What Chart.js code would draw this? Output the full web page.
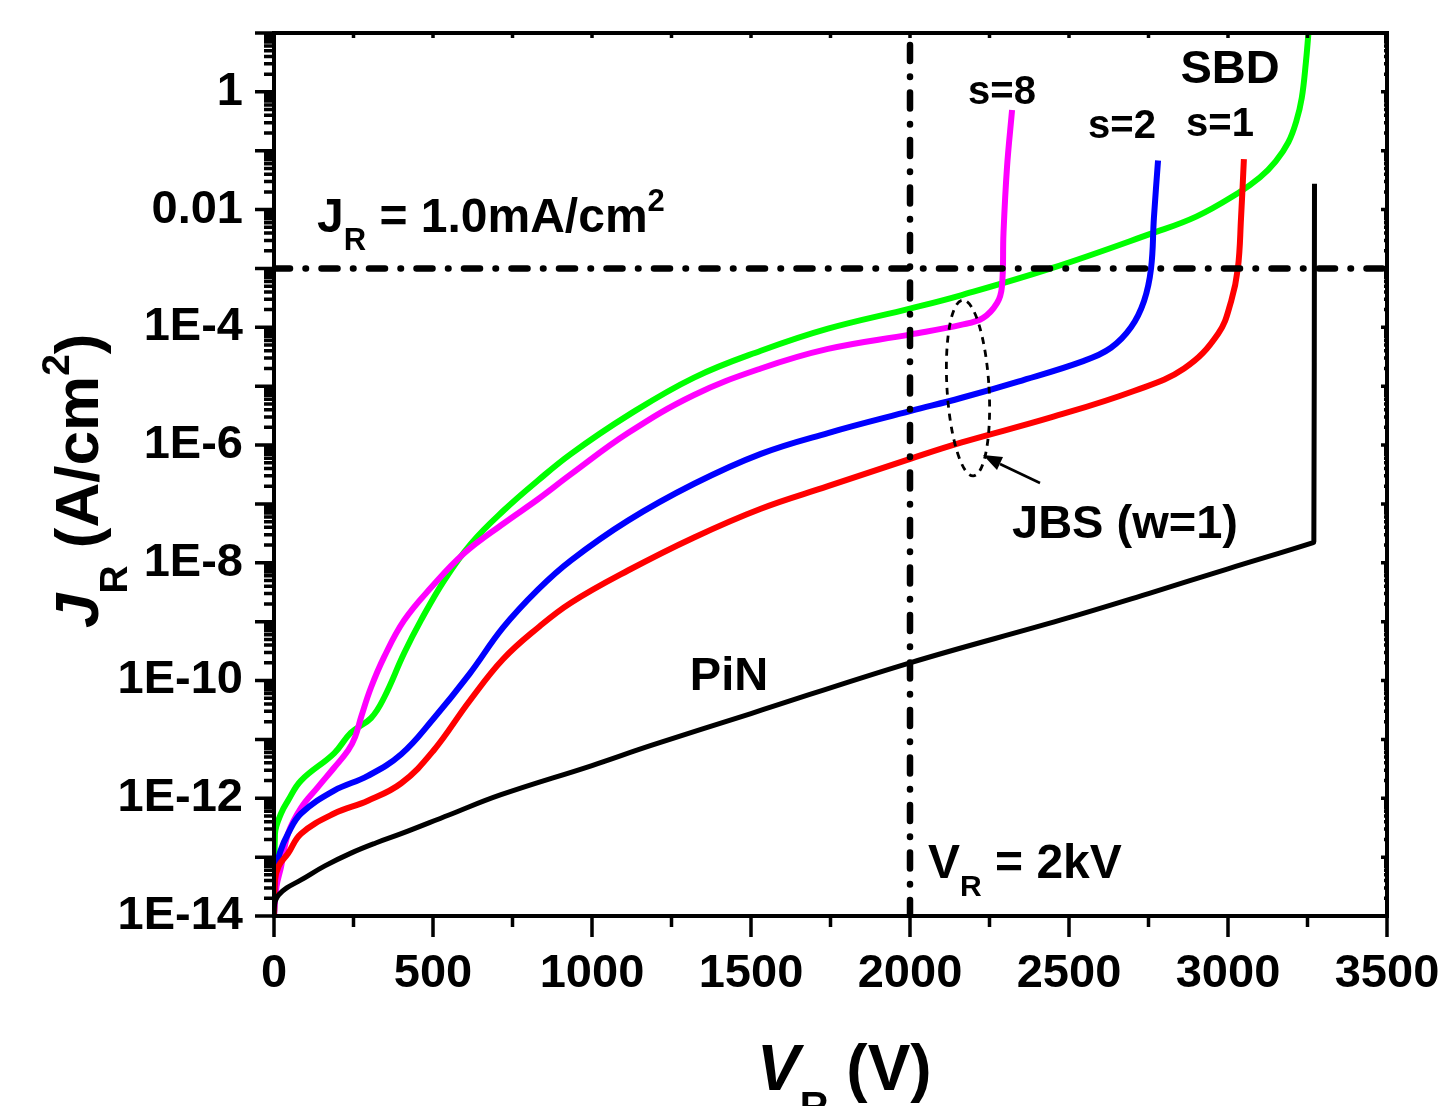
<!DOCTYPE html>
<html>
<head>
<meta charset="utf-8">
<title>JR vs VR</title>
<script src="https://cdn.jsdelivr.net/npm/chart.js@4.4.1/dist/chart.umd.min.js"></script>
<style>
  html, body { margin: 0; padding: 0; background: #fff; }
  #wrap { width: 1456px; height: 1106px; position: relative; }
</style>
</head>
<body>
<div id="wrap"><canvas id="jvChart"></canvas></div>
<script>
// --- data (V in volts, J in A/cm2) ---
const pinV = [0, 2, 6, 15, 40, 85, 160, 242, 320, 400, 550, 714, 1000, 1186, 1500, 2000, 2475, 2750, 3000, 3268, 3270, 3272];
const pinJ = [1e-14, 1.6e-14, 1.9e-14, 2.3e-14, 3.0e-14, 4.1e-14, 7.1e-14, 1.17e-13, 1.74e-13, 2.5e-13, 5.2e-13, 1.15e-12, 3.6e-12, 7.9e-12, 2.75e-11, 2.0e-10, 1.07e-9, 3.0e-9, 7.9e-9, 2.2e-8, 2.3e-8, 2.75e-2];

const s1V = [0, 3, 15, 44, 85, 189, 295, 400, 500, 615, 720, 830, 934, 1113, 1321, 1531, 1742, 2003, 2160, 2443, 2704, 2862, 2969, 3010, 3031, 3041, 3050];
const s1J = [1e-14, 4.0e-14, 7.1e-14, 1.15e-13, 2.5e-13, 5.5e-13, 9.1e-13, 1.8e-12, 6.3e-12, 4.5e-11, 2.3e-10, 7.9e-10, 2.1e-9, 7.4e-9, 2.7e-8, 8.3e-8, 2.0e-7, 5.9e-7, 1.1e-6, 2.95e-6, 8.3e-6, 2.0e-5, 7.8e-5, 2.8e-4, 1.0e-3, 7.2e-3, 7.2e-2];

const s2V = [0, 3, 20, 44, 85, 189, 295, 400, 500, 615, 720, 830, 934, 1113, 1321, 1531, 1742, 2003, 2160, 2340, 2547, 2632, 2695, 2736, 2758, 2767, 2780];
const s2J = [1e-14, 5.0e-14, 1.26e-13, 2.5e-13, 5.5e-13, 1.35e-12, 2.4e-12, 5.6e-12, 2.2e-11, 1.3e-10, 7.9e-10, 3.5e-9, 1.1e-8, 5.2e-8, 2.2e-7, 7.1e-7, 1.6e-6, 3.8e-6, 6.3e-6, 1.2e-5, 2.7e-5, 4.5e-5, 1.0e-4, 2.8e-4, 1.0e-3, 7.2e-3, 6.8e-2];

const s8V = [0, 8, 22, 44, 85, 138, 189, 233, 255, 275, 305, 346, 409, 494, 598, 723, 830, 934, 1113, 1321, 1531, 1742, 2003, 2160, 2230, 2274, 2289, 2294, 2305, 2321];
const s8J = [1e-14, 3.2e-14, 6.8e-14, 2.5e-13, 6.9e-13, 1.55e-12, 3.3e-12, 6.5e-12, 1.1e-11, 2.5e-11, 7.6e-11, 2.5e-10, 1.05e-9, 3.8e-9, 1.45e-8, 4.7e-8, 1.2e-7, 3.2e-7, 1.6e-6, 7.1e-6, 2.0e-5, 4.3e-5, 7.6e-5, 1.1e-4, 1.45e-4, 2.6e-4, 4.9e-4, 4.0e-3, 5.2e-2, 0.49];

const sbdV = [0, 3, 22, 44, 85, 189, 242, 305, 346, 409, 462, 535, 619, 723, 830, 934, 1113, 1321, 1531, 1742, 2003, 2160, 2443, 2758, 2900, 3031, 3100, 3150, 3190, 3215, 3232, 3245, 3253];
const sbdJ = [1e-14, 2.5e-13, 5.5e-13, 9.1e-13, 2.0e-12, 5.8e-12, 1.3e-11, 2.3e-11, 5.1e-11, 2.9e-10, 1.05e-9, 5.0e-9, 2.1e-8, 7.8e-8, 2.5e-7, 7.1e-7, 3.2e-6, 1.4e-5, 4.0e-5, 9.5e-5, 2.1e-4, 3.5e-4, 1.0e-3, 3.9e-3, 7.6e-3, 1.9e-2, 3.5e-2, 6.6e-2, 0.14, 0.32, 0.79, 3.2, 10];

// reference lines
const limitJ = 1.0e-3;   // JR = 1.0 mA/cm2
const limitV = 2000;     // VR = 2 kV

// axes
const xMin = 0, xMax = 3500, xStep = 500;
const yMin = 1e-14, yMax = 10;
const yTickValues = [1e-14, 1e-12, 1e-10, 1e-8, 1e-6, 1e-4, 1e-2, 1];
const yTickLabels = ['1E-14', '1E-12', '1E-10', '1E-8', '1E-6', '1E-4', '0.01', '1'];

const FONT = '"Liberation Sans", Arial, sans-serif';

function pts(xs, ys) {
    return xs.map((v, i) => ({ x: v, y: ys[i] }));
}

function curve(label, xs, ys, color, width) {
    return {
        label: label,
        data: pts(xs, ys),
        borderColor: color,
        borderWidth: width,
        pointRadius: 0,
        fill: false,
        tension: 0.4
    };
}

function refLine(label, data) {
    return {
        label: label,
        data: data,
        borderColor: '#000',
        borderWidth: 6.5,
        borderDash: [16, 15.5, 0.5, 15.5],
        borderCapStyle: 'round',
        pointRadius: 0,
        fill: false,
        tension: 0
    };
}

// text that needs sub/superscripts, drawn on top of the plot (pixel positions)
const notes = [
    { x: 1002, y: 104, align: 'center', parts: [{ t: 's=8', s: 40 }] },
    { x: 1122, y: 138, align: 'center', parts: [{ t: 's=2', s: 40 }] },
    { x: 1220, y: 136, align: 'center', parts: [{ t: 's=1', s: 40 }] },
    { x: 1230, y: 83, align: 'center', parts: [{ t: 'SBD', s: 47 }] },
    { x: 1125, y: 538, align: 'center', parts: [{ t: 'JBS (w=1)', s: 47 }] },
    { x: 729, y: 690, align: 'center', parts: [{ t: 'PiN', s: 47 }] },
    { x: 928, y: 878, align: 'left', parts: [{ t: 'V', s: 48 }, { t: 'R', s: 30, dy: 18 }, { t: ' = 2kV', s: 48 }] },
    { x: 317, y: 232, align: 'left', parts: [{ t: 'J', s: 48 }, { t: 'R', s: 31, dy: 18 }, { t: ' = 1.0mA/cm', s: 48 }, { t: '2', s: 31, dy: -21 }] }
];

function drawParts(ctx, parts, x, y, align) {
    let total = 0;
    parts.forEach(p => {
        ctx.font = (p.i ? 'italic ' : '') + 'bold ' + p.s + 'px ' + FONT;
        p.w = ctx.measureText(p.t).width;
        total += p.w;
    });
    let cx = align === 'center' ? x - total / 2 : x;
    parts.forEach(p => {
        ctx.font = (p.i ? 'italic ' : '') + 'bold ' + p.s + 'px ' + FONT;
        ctx.fillText(p.t, cx, y + (p.dy || 0));
        cx += p.w;
    });
}

const decor = {
    id: 'decor',
    afterDraw(chart) {
        const { ctx, chartArea: a, scales: { x, y } } = chart;
        ctx.save();
        ctx.strokeStyle = '#000';
        ctx.fillStyle = '#000';
        ctx.lineCap = 'butt';

        // tick marks
        ctx.lineWidth = 3.5;
        ctx.beginPath();
        for (let v = xMin; v <= xMax; v += xStep / 2) {
            const px = x.getPixelForValue(v);
            const len = v % xStep === 0 ? 21 : 11;
            ctx.moveTo(px, a.bottom); ctx.lineTo(px, a.bottom + len);
            ctx.moveTo(px, a.top); ctx.lineTo(px, a.top + 5);
        }
        for (let e = -14; e <= 1; e++) {
            for (let m = 1; m <= 9; m++) {
                const v = m * Math.pow(10, e);
                if (v > yMax * 1.0001) break;
                const py = y.getPixelForValue(v);
                const len = m === 1 ? 19 : 10;
                ctx.moveTo(a.left, py); ctx.lineTo(a.left - len, py);
                ctx.moveTo(a.right, py); ctx.lineTo(a.right - (m === 1 ? 6 : 3), py);
            }
        }
        ctx.stroke();

        // frame
        ctx.lineWidth = 4;
        ctx.strokeRect(a.left, a.top, a.right - a.left, a.bottom - a.top);

        // dotted ellipse around JBS curves + arrow
        ctx.lineWidth = 2.8;
        ctx.setLineDash([7, 6]);
        ctx.beginPath();
        ctx.ellipse(968, 388, 21, 88, -0.06, 0, Math.PI * 2);
        ctx.stroke();
        ctx.setLineDash([]);
        ctx.lineWidth = 2.5;
        ctx.beginPath();
        ctx.moveTo(1040, 483); ctx.lineTo(1000, 464);
        ctx.stroke();
        ctx.beginPath();
        ctx.moveTo(983, 455);
        ctx.lineTo(1003, 457);
        ctx.lineTo(997, 470);
        ctx.closePath();
        ctx.fill();

        // annotations
        ctx.textBaseline = 'alphabetic';
        ctx.textAlign = 'left';
        notes.forEach(n => drawParts(ctx, n.parts, n.x, n.y, n.align));

        // x axis title
        drawParts(ctx, [{ t: 'V', s: 64, i: true }, { t: 'R', s: 40, dy: 30 }, { t: ' (V)', s: 64 }], 757, 1090, 'left');

        // y axis title
        ctx.save();
        ctx.translate(98, 628);
        ctx.rotate(-Math.PI / 2);
        drawParts(ctx, [{ t: 'J', s: 62, i: true }, { t: 'R', s: 39, dy: 29 }, { t: ' (A/cm', s: 62 }, { t: '2', s: 39, dy: -29 }, { t: ')', s: 62 }], 0, 0, 'left');
        ctx.restore();

        ctx.restore();
    }
};

new Chart(document.getElementById('jvChart').getContext('2d'), {
    type: 'line',
    data: {
        datasets: [
            refLine('JR = 1.0mA/cm2', [{ x: xMin, y: limitJ }, { x: xMax, y: limitJ }]),
            refLine('VR = 2kV', [{ x: limitV, y: yMin }, { x: limitV, y: yMax }]),
            curve('PiN', pinV, pinJ, '#000000', 5),
            curve('s=1', s1V, s1J, '#ff0000', 6),
            curve('s=2', s2V, s2J, '#0000ff', 6),
            curve('s=8', s8V, s8J, '#ff00ff', 6),
            curve('SBD', sbdV, sbdJ, '#00ff00', 6)
        ]
    },
    options: {
        responsive: true,
        maintainAspectRatio: false,
        animation: false,
        layout: { padding: { left: 0, right: 69, top: 33, bottom: 0 } },
        plugins: { legend: { display: false }, tooltip: { enabled: false } },
        scales: {
            x: {
                type: 'linear',
                min: xMin,
                max: xMax,
                grid: { display: false, drawTicks: false },
                border: { display: true, color: '#000', width: 4 },
                ticks: {
                    stepSize: xStep,
                    color: '#000',
                    padding: 30,
                    font: { family: FONT, size: 47, weight: 'bold' },
                    maxRotation: 0,
                    autoSkip: false,
                    callback: v => String(v)
                },
                afterFit: s => { s.height = 190; s.paddingLeft = 0; s.paddingRight = 0; }
            },
            y: {
                type: 'logarithmic',
                min: yMin,
                max: yMax,
                grid: { display: false, drawTicks: false },
                border: { display: true, color: '#000', width: 4 },
                afterBuildTicks: s => { s.ticks = yTickValues.map(v => ({ value: v })); },
                ticks: {
                    color: '#000',
                    padding: 31,
                    font: { family: FONT, size: 47, weight: 'bold' },
                    autoSkip: false,
                    callback: (v, i) => yTickLabels[i]
                },
                afterFit: s => { s.width = 274; s.paddingTop = 0; s.paddingBottom = 0; }
            }
        }
    },
    plugins: [decor]
});
</script>
</body>
</html>
